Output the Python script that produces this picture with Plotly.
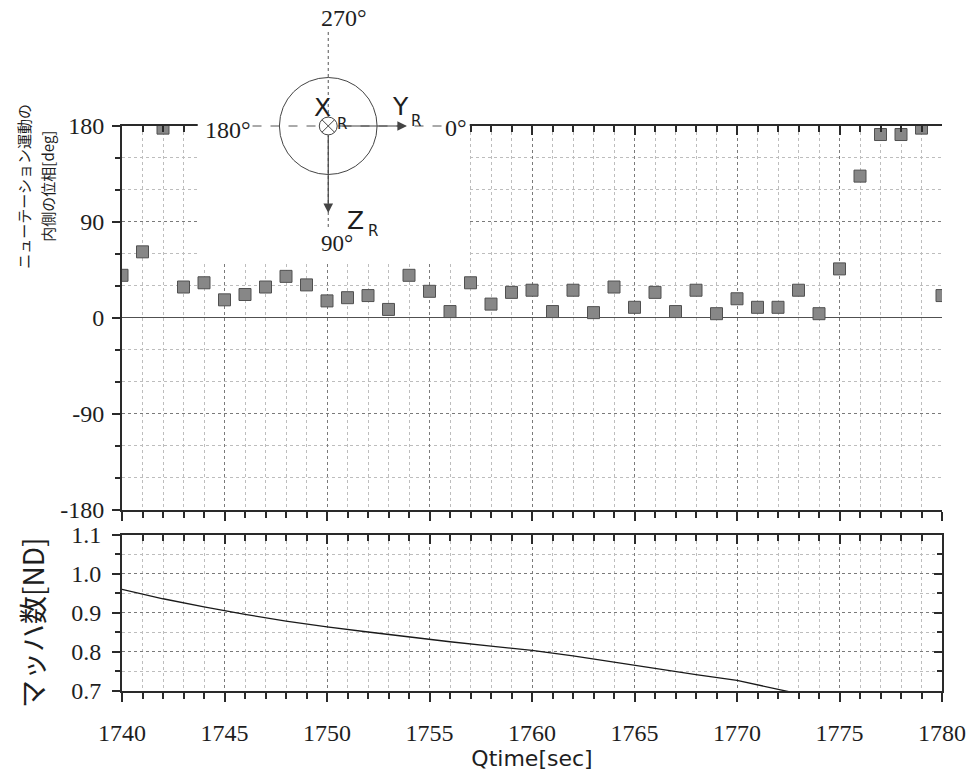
import plotly.graph_objects as go

# ---------------- data ----------------
time_phase = list(range(1740, 1781))
phase_deg = [40, 62, 178, 29, 33, 17, 22, 29, 39, 31,
             16, 19, 21, 8, 40, 25, 6, 33, 13, 24,
             26, 6, 26, 5, 29, 10, 24, 6, 26, 4,
             18, 10, 10, 26, 4, 46, 133, 172, 172, 178,
             21]

time_mach = [1740, 1742, 1744, 1745, 1746, 1748, 1750, 1752, 1754, 1755, 1756,
             1758, 1760, 1762, 1764, 1765, 1766, 1768, 1770, 1771, 1772, 1773,
             1774, 1776, 1778, 1780]
mach = [0.960, 0.936, 0.915, 0.905, 0.896, 0.879, 0.864, 0.851, 0.838, 0.832, 0.826,
        0.815, 0.804, 0.790, 0.774, 0.765, 0.757, 0.742, 0.727, 0.716, 0.704, 0.693,
        0.686, 0.676, 0.666, 0.656]

phase_ticks = [-180, -90, 0, 90, 180]
phase_ticktext = ["-180", "-90", "0", "90", "180"]
mach_ticks = [0.7, 0.8, 0.9, 1.0, 1.1]
time_ticks = [1740, 1745, 1750, 1755, 1760, 1765, 1770, 1775, 1780]

# ---------------- layout geometry ----------------
W, H = 978, 775
L, R, T, B = 122, 33, 126, 78
PW, PH = W - L - R, H - T - B
TOP_BOTTOM_PX = 514
BOT_TOP_PX = 539


def X(px):
    return (px - L) / PW


def Y(py):
    return (H - B - py) / PH


serif = "Liberation Serif, DejaVu Serif, serif"
sans = "DejaVu Sans"
jp = "Noto Sans CJK JP"
axc = "#2a2a2a"
tickfont = dict(family=serif, size=24, color="#1e1e1e")

fig = go.Figure()

fig.add_trace(go.Scatter(
    x=time_phase, y=phase_deg, mode="markers", xaxis="x", yaxis="y",
    marker=dict(symbol="square", size=12, color="#878787",
                line=dict(color="#505050", width=1)),
    showlegend=False, hoverinfo="x+y"))

fig.add_trace(go.Scatter(
    x=time_mach, y=mach, mode="lines", xaxis="x2", yaxis="y2",
    line=dict(color="#1a1a1a", width=1.3),
    showlegend=False))

# invisible traces so the overlay (mirror) axes are drawn
for xa, ya in [("x3", "y"), ("x4", "y2"), ("x2", "y3")]:
    fig.add_trace(go.Scatter(x=[1760], y=[None], xaxis=xa, yaxis=ya,
                             mode="markers", showlegend=False, hoverinfo="skip"))

major_grid = dict(showgrid=True, gridcolor="#7a7a7a", griddash="dot", gridwidth=1)
minor_grid_col = "#bdbdbd"

x_common = dict(range=[1740, 1780], tick0=1740, dtick=5, zeroline=False,
                showline=True, linecolor=axc, linewidth=2,
                ticklen=9, tickwidth=2, tickcolor=axc)

fig.update_layout(
    width=W, height=H,
    margin=dict(l=L, r=R, t=T, b=B, pad=0),
    paper_bgcolor="white", plot_bgcolor="white",
    showlegend=False,
    xaxis=dict(**x_common, **major_grid, domain=[0, 1], anchor="y",
               ticks="outside", showticklabels=False,
               minor=dict(dtick=1, tick0=1740, ticks="outside", ticklen=6,
                          tickcolor=axc, showgrid=True, gridcolor=minor_grid_col,
                          griddash="dot")),
    xaxis3=dict(**x_common, overlaying="x", anchor="y", side="top",
                ticks="inside", showticklabels=False, showgrid=False,
                minor=dict(dtick=1, tick0=1740, ticks="inside", ticklen=6,
                           tickcolor=axc, showgrid=False)),
    yaxis=dict(range=[-180, 180], tickvals=phase_ticks, ticktext=phase_ticktext,
               domain=[Y(TOP_BOTTOM_PX), 1], anchor="x",
               showline=True, linecolor=axc, linewidth=2,
               ticks="outside", ticklen=8, tickwidth=2, tickcolor=axc,
               ticklabelstandoff=3, tickfont=tickfont,
               **major_grid,
               zeroline=True, zerolinecolor="#505050", zerolinewidth=1,
               minor=dict(dtick=30, tick0=0, ticks="outside", ticklen=5,
                          tickcolor=axc, showgrid=True, gridcolor=minor_grid_col,
                          griddash="dot")),
    xaxis2=dict(**x_common, **major_grid, domain=[0, 1], anchor="y2",
                ticks="outside", tickvals=time_ticks,
                ticklabelstandoff=10, tickfont=tickfont,
                title=dict(text="Qtime[sec]", standoff=2,
                           font=dict(family=sans, size=22, color="#1e1e1e")),
                minor=dict(dtick=1, tick0=1740, ticks="outside", ticklen=6,
                           tickcolor=axc, showgrid=True, gridcolor=minor_grid_col,
                           griddash="dot")),
    xaxis4=dict(**x_common, overlaying="x2", anchor="y2", side="top",
                ticks="inside", showticklabels=False, showgrid=False,
                minor=dict(dtick=1, tick0=1740, ticks="inside", ticklen=6,
                           tickcolor=axc, showgrid=False)),
    yaxis2=dict(range=[0.7, 1.1], tickvals=mach_ticks, tickformat=".1f",
                domain=[0, Y(BOT_TOP_PX)], anchor="x2",
                showline=True, linecolor=axc, linewidth=2,
                ticks="outside", ticklen=8, tickwidth=2, tickcolor=axc,
                ticklabelstandoff=6, tickfont=tickfont,
                **major_grid, zeroline=False,
                minor=dict(dtick=0.05, tick0=0.7, ticks="outside", ticklen=5,
                           tickcolor=axc, showgrid=True, gridcolor=minor_grid_col,
                           griddash="dot")),
    yaxis3=dict(range=[0.7, 1.1], tickvals=mach_ticks, overlaying="y2",
                anchor="x2", side="right", showline=True, linecolor=axc,
                linewidth=2, ticks="inside", ticklen=8, tickwidth=2,
                tickcolor=axc, showticklabels=False, showgrid=False,
                zeroline=False,
                minor=dict(dtick=0.05, tick0=0.7, ticks="inside", ticklen=5,
                           tickcolor=axc, showgrid=False)),
)

# ---------------- inset coordinate diagram ----------------
cx, cy = 329, 126
shapes = [
    # white patch behind the diagram
    dict(type="rect", xref="paper", yref="paper", layer="above",
         x0=X(198), x1=X(471), y0=Y(263), y1=Y(0),
         fillcolor="white", line=dict(width=0)),
    # big circle
    dict(type="circle", xref="paper", yref="paper", layer="above",
         x0=X(cx - 49), x1=X(cx + 49), y0=Y(cy + 49), y1=Y(cy - 49),
         line=dict(color="#444", width=1)),
    # horizontal dashed reference line
    dict(type="line", xref="paper", yref="paper", layer="above",
         x0=X(253), x1=X(443), y0=Y(cy), y1=Y(cy),
         line=dict(color="#555", width=1, dash="dash")),
    # vertical dotted reference line
    dict(type="line", xref="paper", yref="paper", layer="above",
         x0=X(cx), x1=X(cx), y0=Y(31), y1=Y(231),
         line=dict(color="#555", width=1, dash="dot")),
    # small circle with cross (X_R into the page)
    dict(type="circle", xref="paper", yref="paper", layer="above",
         x0=X(cx - 9), x1=X(cx + 9), y0=Y(cy + 9), y1=Y(cy - 9),
         fillcolor="white", line=dict(color="#444", width=1)),
    dict(type="line", xref="paper", yref="paper", layer="above",
         x0=X(cx - 6.4), x1=X(cx + 6.4), y0=Y(cy - 6.4), y1=Y(cy + 6.4),
         line=dict(color="#444", width=1)),
    dict(type="line", xref="paper", yref="paper", layer="above",
         x0=X(cx - 6.4), x1=X(cx + 6.4), y0=Y(cy + 6.4), y1=Y(cy - 6.4),
         line=dict(color="#444", width=1)),
]
fig.update_layout(shapes=shapes)

ann = []
# arrows Y_R and Z_R
ann.append(dict(xref="paper", yref="paper", x=X(408), y=Y(cy), ax=-(408 - cx - 9), ay=0,
                text="", showarrow=True, arrowhead=2, arrowsize=1.6, arrowwidth=1.2,
                arrowcolor="#444"))
ann.append(dict(xref="paper", yref="paper", x=X(cx), y=Y(214), ax=0, ay=-(214 - cy - 9),
                text="", showarrow=True, arrowhead=2, arrowsize=1.6, arrowwidth=1.2,
                arrowcolor="#444"))


def txt(s, px, py, fam, size, color="#1e1e1e"):
    ann.append(dict(xref="paper", yref="paper", x=X(px), y=Y(py), text=s,
                    showarrow=False, xanchor="center", yanchor="middle",
                    font=dict(family=fam, size=size, color=color)))


txt("270°", 345, 17, serif, 24)
txt("180°", 228, 130, serif, 24)
txt("0°", 457, 128, serif, 24)
txt("90°", 338, 245, serif, 23)
txt("X", 323, 107, sans, 25)
txt("R", 343, 124, sans, 15)
txt("Y", 402, 106, sans, 25)
txt("R", 417, 121, sans, 15)
txt("Z", 356, 221, sans, 25)
txt("R", 374, 232, sans, 15)

# y-axis titles
ann.append(dict(xref="paper", yref="paper", x=X(23), y=Y(187), text="ニューテーション運動の",
                textangle=-90, showarrow=False, xanchor="center", yanchor="middle",
                font=dict(family=jp, size=15, color="#1e1e1e")))
ann.append(dict(xref="paper", yref="paper", x=X(47), y=Y(187), text="内側の位相[deg]",
                textangle=-90, showarrow=False, xanchor="center", yanchor="middle",
                font=dict(family=jp, size=15, color="#1e1e1e")))
ann.append(dict(xref="paper", yref="paper", x=X(31), y=Y(628), text="マッハ数[ND]",
                textangle=-90, showarrow=False, xanchor="center", yanchor="middle",
                font=dict(family=jp, size=28, color="#1e1e1e")))
fig.update_layout(annotations=ann)

fig.write_html("out.html")
